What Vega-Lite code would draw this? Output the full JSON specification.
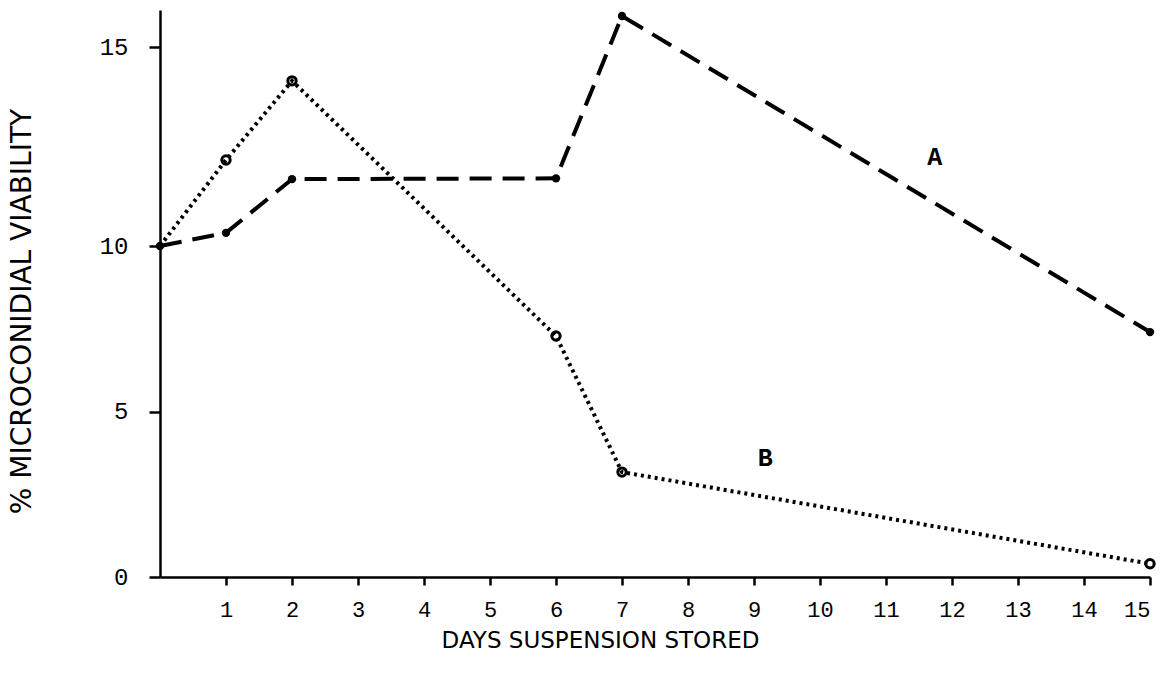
{
  "$schema": "https://vega.github.io/schema/vega-lite/v6.json",
  "autosize": {"type": "none"},
  "padding": {"left": 160, "top": 10, "right": 12, "bottom": 99},
  "width": 990,
  "height": 567,
  "background": "white",
  "config": {
    "view": {"stroke": null},
    "axis": {"grid": false, "domainColor": "black", "tickColor": "black", "labelColor": "black", "titleColor": "black", "domainWidth": 2.5, "tickWidth": 2.5}
  },
  "datasets": {
    "series": [
      {"series": "A", "day": 0, "value": 10},
      {"series": "A", "day": 1, "value": 10.33},
      {"series": "A", "day": 2, "value": 11.68},
      {"series": "A", "day": 6, "value": 11.7},
      {"series": "A", "day": 7, "value": 15.78},
      {"series": "A", "day": 15, "value": 7.4},
      {"series": "B", "day": 0, "value": 10},
      {"series": "B", "day": 1, "value": 12.16},
      {"series": "B", "day": 2, "value": 14.15},
      {"series": "B", "day": 6, "value": 7.28},
      {"series": "B", "day": 7, "value": 3.17},
      {"series": "B", "day": 15, "value": 0.4}
    ],
    "labels": [
      {"day": 11.74, "value": 12.24, "label": "A"},
      {"day": 9.17, "value": 3.6, "label": "B"}
    ]
  },
  "encoding": {
    "x": {
      "field": "day", "type": "quantitative",
      "scale": {"domain": [0, 15], "nice": false, "zero": false},
      "axis": {
        "values": [1,2,3,4,5,6,7,8,9,10,11,12,13,14,15],
        "title": "DAYS SUSPENSION STORED",
        "titleFont": "DejaVu Sans", "titleFontSize": 23, "titleFontWeight": "normal",
        "titleX": 440, "titleY": 52, "titleBaseline": "top", "titleAlign": "center",
        "labelFont": "Liberation Mono", "labelFontSize": 22,
        "tickSize": 8, "labelPadding": 14
      }
    },
    "y": {
      "field": "value", "type": "quantitative",
      "scale": {"domain": [0, 10, 15.93], "range": [567, 236, 0], "nice": false, "zero": false},
      "axis": {
        "values": [0, 5, 10, 15],
        "title": "% MICROCONIDIAL VIABILITY",
        "titleFont": "DejaVu Sans", "titleFontSize": 28, "titleFontWeight": "normal",
        "titleX": -138, "titleY": 301, "titleBaseline": "middle", "titleAlign": "center", "titleAngle": -90,
        "labelFont": "Liberation Mono", "labelFontSize": 24,
        "tickSize": 11, "labelPadding": 21
      }
    }
  },
  "layer": [
    {
      "data": {"name": "series"},
      "mark": {"type": "line", "color": "black", "strokeWidth": 4},
      "encoding": {
        "detail": {"field": "series"},
        "strokeDash": {"field": "series", "type": "nominal", "scale": {"domain": ["A", "B"], "range": [[22, 11], [3, 4]]}, "legend": null}
      }
    },
    {
      "data": {"name": "series"},
      "transform": [{"filter": "datum.series == 'A'"}],
      "mark": {"type": "point", "filled": true, "color": "black", "size": 70, "opacity": 1}
    },
    {
      "data": {"name": "series"},
      "transform": [{"filter": "datum.series == 'B' && datum.day > 0"}],
      "mark": {"type": "point", "filled": false, "color": "black", "size": 70, "strokeWidth": 3, "opacity": 1}
    },
    {
      "data": {"name": "labels"},
      "mark": {"type": "text", "font": "Liberation Mono", "fontSize": 25, "fontWeight": "bold", "color": "black"},
      "encoding": {"text": {"field": "label"}}
    }
  ]
}
